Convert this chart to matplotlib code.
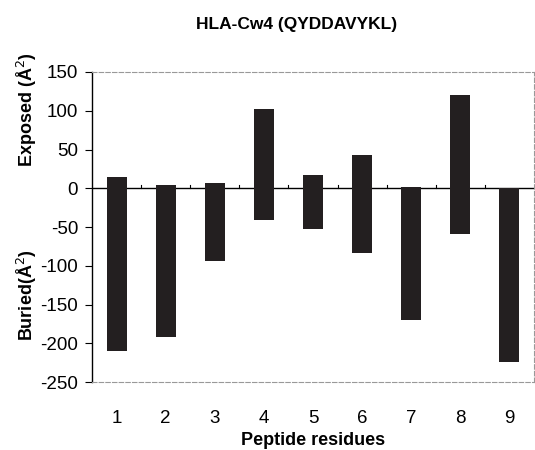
import numpy as np
import matplotlib.pyplot as plt

plt.rcParams['font.family'] = ['Liberation Sans', 'DejaVu Sans']
plt.rcParams['axes.unicode_minus'] = False

residues = [1, 2, 3, 4, 5, 6, 7, 8, 9]
exposed = [14, 4, 7, 102, 17, 43, 2, 120, 0]
buried = [-210, -192, -94, -41, -52, -84, -170, -59, -224]

fig = plt.figure(figsize=(5.35, 4.5), dpi=100)
ax = fig.add_axes([0.172, 0.151, 0.826, 0.689])

x = np.array(residues)
heights = np.array(exposed) - np.array(buried)
ax.bar(x, heights, bottom=buried, width=0.41, color='#231f20', zorder=3)

# zero line with category ticks
ax.axhline(0, color='black', lw=1.0, zorder=2)
for b in np.arange(1.5, 9.5, 1):
    ax.plot([b, b], [0, 4], color='black', lw=0.8, zorder=2)

ax.set_xlim(0.5, 9.5)
ax.set_ylim(-250, 150)
ax.set_yticks(range(-250, 151, 50))
ax.set_xticks(residues)
ax.tick_params(axis='x', length=0, pad=20, labelsize=13.5)
ax.tick_params(axis='y', direction='out', length=5, labelsize=13.5, width=0.8, pad=5)

for s in ['top', 'right', 'bottom']:
    ax.spines[s].set_color('#999999')
    ax.spines[s].set_linestyle((0, (4, 2)))
    ax.spines[s].set_linewidth(0.8)
ax.spines['left'].set_linewidth(1.0)

fig.text(0.555, 1 - 25 / 450, 'HLA-Cw4 (QYDDAVYKL)', ha='center', va='center',
         fontsize=12.5, fontweight='bold')
ax.set_xlabel('Peptide residues', fontsize=13, fontweight='bold', labelpad=4)
fig.text(27 / 535, 1 - 110 / 450, 'Exposed (Å$^{2}$)', rotation=90, ha='center', va='center',
         fontsize=13, fontweight='bold')
fig.text(27 / 535, 1 - 295 / 450, 'Buried(Å$^{2}$)', rotation=90, ha='center', va='center',
         fontsize=13, fontweight='bold')

fig.savefig('out.png', dpi=100)
